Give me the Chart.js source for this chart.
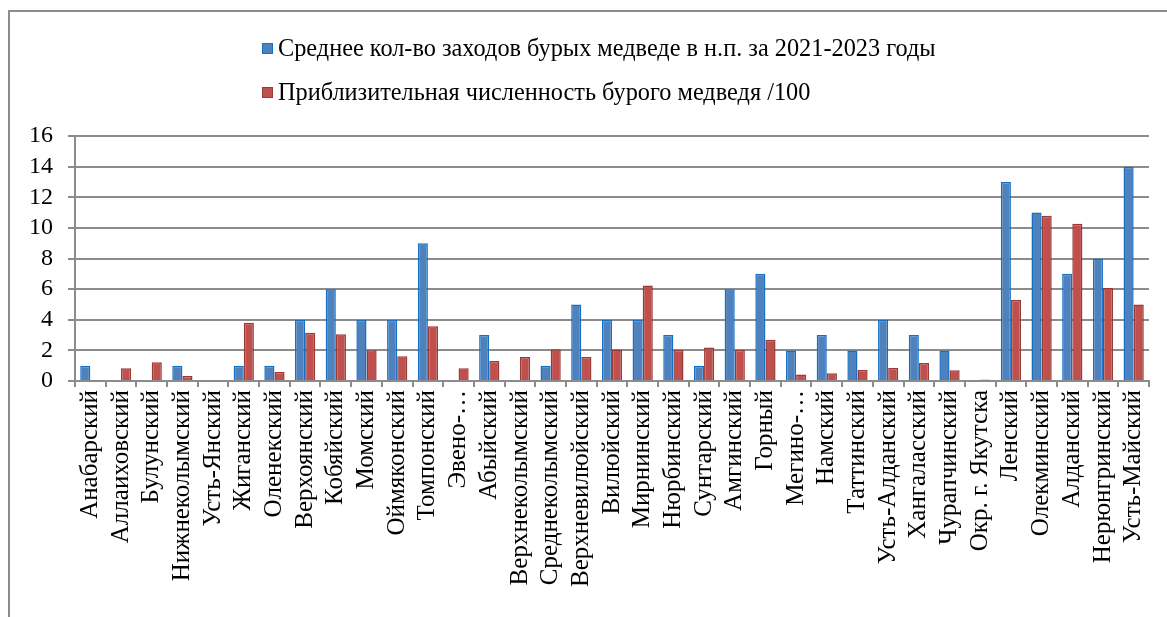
<!DOCTYPE html>
<html>
<head>
<meta charset="utf-8">
<script src="https://cdn.jsdelivr.net/npm/chart.js@4/dist/chart.umd.min.js"></script>
<style>
  html, body { margin: 0; padding: 0; background: #fff; }
  #wrap { position: relative; width: 1167px; height: 617px; overflow: hidden; }
  #frame { position: absolute; left: 8px; top: 10px; width: 1200px; height: 700px;
           border-left: 2px solid #8c8c8c; border-top: 2px solid #8c8c8c; }
  #legend { position: absolute; left: 262px; top: 26px;
            font-family: "Liberation Serif", "Times New Roman", serif;
            font-size: 24.3px; color: #000; }
  #legend .row { height: 44px; display: flex; align-items: center; white-space: nowrap; }
  #legend .box { width: 9px; height: 9px; margin-right: 5px; display: inline-block; }
  canvas { position: absolute; left: 0; top: 0; }
</style>
</head>
<body>
<div id="wrap">
  <div id="frame"></div>
  <canvas id="myChart" width="1167" height="617"></canvas>
  <div id="legend"></div>
</div>
<script>
// Districts
var districts = ['Анабарский', 'Аллаиховский', 'Булунский', 'Нижнеколымский', 'Усть-Янский',
    'Жиганский', 'Оленекский', 'Верхоянский', 'Кобяйский', 'Момский', 'Оймяконский',
    'Томпонский', 'Эвено-…', 'Абыйский', 'Верхнеколымский', 'Среднеколымский',
    'Верхневилюйский', 'Вилюйский', 'Мирнинский', 'Нюрбинский', 'Сунтарский', 'Амгинский',
    'Горный', 'Мегино-…', 'Намский', 'Таттинский', 'Усть-Алданский', 'Хангаласский',
    'Чурапчинский', 'Окр. г. Якутска', 'Ленский', 'Олекминский', 'Алданский',
    'Нерюнгринский', 'Усть-Майский'];

// Average visits of brown bears to settlements, 2021-2023
var visits = [1, 0, 0, 1, 0, 1, 1, 4, 6, 4, 4, 9, 0, 3, 0, 1, 5, 4, 4, 3, 1, 6, 7, 2,
    3, 2, 4, 3, 2, 0, 13, 11, 7, 8, 14];

// Approximate bear population / 100
var population = [0.05, 0.83, 1.22, 0.33, 0, 3.8, 0.59, 3.15, 3.06, 2.01, 1.62, 3.58, 0.83,
    1.31, 1.57, 2.08, 1.57, 2.05, 6.23, 2.03, 2.19, 2.03, 2.69, 0.42, 0.5, 0.72, 0.85, 1.18,
    0.7, 0.09, 5.29, 10.8, 10.27, 6.08, 5.0];

var seriesNames = ['Среднее кол-во заходов бурых медведе в н.п. за 2021-2023 годы',
    'Приблизительная численность бурого медведя /100'];

var yTicks = [0, 2, 4, 6, 8, 10, 12, 14, 16];

var gridColor = '#8c8c8c';
var font = "'Liberation Serif', 'Times New Roman', serif";

var ctx = document.getElementById('myChart').getContext('2d');

var chart = new Chart(ctx, {
    type: 'bar',
    data: {
        labels: districts,
        datasets: [
            {
                label: seriesNames[0],
                data: visits,
                backgroundColor: '#4f81bd',
                borderColor: '#1470c4',
                borderWidth: 1.5,
            },
            {
                label: seriesNames[1],
                data: population,
                backgroundColor: '#c0504d',
                borderColor: '#9a3a37',
                borderWidth: 1.5,
            },
        ],
    },
    options: {
        responsive: false,
        animation: false,
        layout: { padding: { top: 136, right: 18, bottom: 0, left: 0 } },
        datasets: { bar: { categoryPercentage: 0.66, barPercentage: 1 } },
        plugins: {
            legend: { display: false },
            tooltip: { enabled: false },
        },
        scales: {
            x: {
                grid: { display: true, drawOnChartArea: false, drawTicks: true, tickLength: 6,
                        color: gridColor, lineWidth: 2, offset: true },
                border: { display: true, color: gridColor, width: 2 },
                ticks: { color: '#000', font: { family: font, size: 25 }, minRotation: 90,
                          maxRotation: 90, autoSkip: false, padding: 3 },
                afterFit: function (s) { s.height = 236; },
            },
            y: {
                min: 0,
                max: 16,
                afterBuildTicks: function (s) { s.ticks = yTicks.map(function (v) { return { value: v }; }); },
                grid: { color: gridColor, lineWidth: 2, tickLength: 7 },
                border: { display: true, color: gridColor, width: 2 },
                ticks: { color: '#000', font: { family: font, size: 24 }, padding: 15, autoSkip: false },
                afterFit: function (s) { s.width = 75; },
            },
        },
    },
});

// Legend as HTML, rows left-aligned like the original
var legend = document.getElementById('legend');
chart.data.datasets.forEach(function (ds) {
    var row = document.createElement('div');
    row.className = 'row';
    var box = document.createElement('span');
    box.className = 'box';
    box.style.background = ds.backgroundColor;
    box.style.border = '1px solid ' + ds.borderColor;
    row.appendChild(box);
    row.appendChild(document.createTextNode(ds.label));
    legend.appendChild(row);
});
</script>
</body>
</html>
